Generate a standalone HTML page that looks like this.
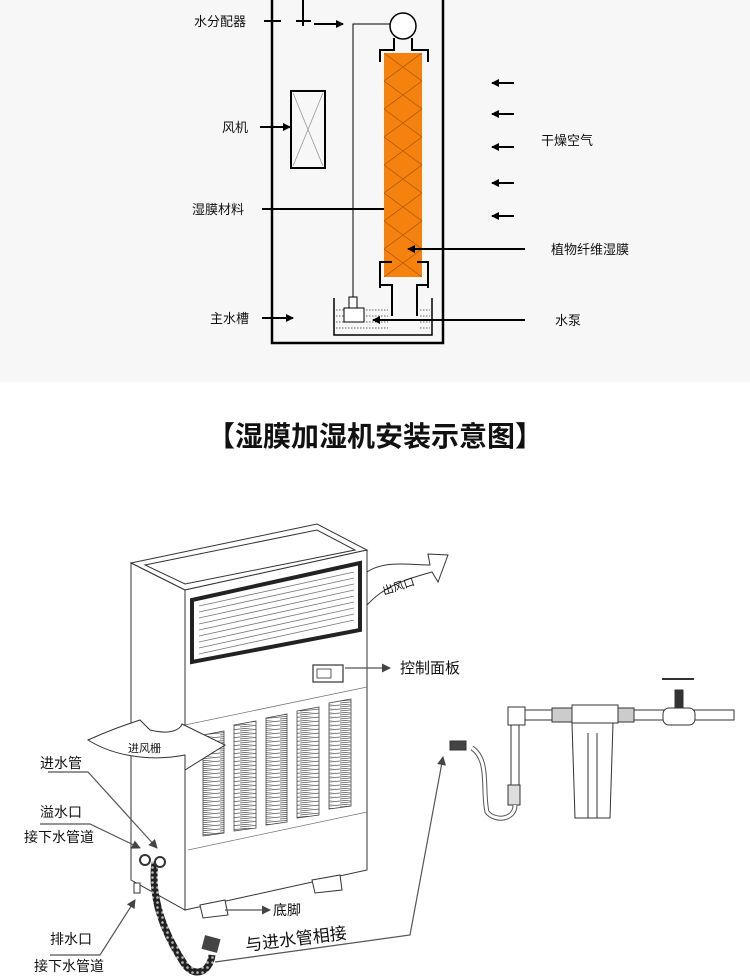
<!DOCTYPE html>
<html><head><meta charset="utf-8"><style>
html,body{margin:0;padding:0;background:#fff;}
svg{display:block;}
text{font-family:"Liberation Sans","Noto Sans CJK SC",sans-serif;fill:#111;}
</style></head><body>
<svg width="750" height="980" viewBox="0 0 750 980" xmlns="http://www.w3.org/2000/svg">
<defs>
<marker id="ah" markerWidth="8" markerHeight="8" refX="7" refY="4" orient="auto" markerUnits="userSpaceOnUse"><path d="M0,0 L8,4 L0,8 z" fill="#000"/></marker>
<marker id="ag" markerWidth="9" markerHeight="9" refX="8" refY="4.5" orient="auto" markerUnits="userSpaceOnUse"><path d="M0,0 L9,4.5 L0,9 z" fill="#444"/></marker>
<pattern id="hatch" x="384" y="53" width="38" height="28" patternUnits="userSpaceOnUse">
<path d="M0,0 L38,28 M38,0 L0,28" stroke="#b35a00" stroke-width="0.8" fill="none"/>
</pattern>
<pattern id="louv" width="20" height="4" patternUnits="userSpaceOnUse">
<path d="M0,1 L20,-1 M0,3 L20,1" stroke="#555" stroke-width="0.8"/>
</pattern>
<pattern id="braid" width="5" height="5" patternUnits="userSpaceOnUse">
<rect width="5" height="5" fill="#222"/><circle cx="2.5" cy="2.5" r="1.3" fill="#bbb"/>
</pattern>
</defs>
<rect x="0" y="0" width="750" height="382" fill="#f7f7f7"/>
<rect x="272" y="-3" width="171" height="346" fill="none" stroke="#000" stroke-width="2.5"/>
<rect x="291" y="91" width="34" height="77" fill="none" stroke="#000" stroke-width="2"/>
<path d="M293,93 L323,166 M323,93 L293,166" stroke="#999" stroke-width="0.8"/>
<circle cx="403" cy="26" r="13" fill="#fff" stroke="#000" stroke-width="1.5"/>
<path d="M390,24 L353,24 L353,297" fill="none" stroke="#000" stroke-width="1"/>
<path d="M394,38 L394,50 L380,50 L380,62 M412,38 L412,50 L428,50 L428,62" fill="none" stroke="#000" stroke-width="2"/>
<rect x="384" y="53" width="38" height="224" fill="#f5820f"/>
<rect x="384" y="53" width="38" height="224" fill="url(#hatch)"/>
<path d="M380,288 L380,262 L392,262 M428,288 L428,262 L417,262 M380,285 L392,285 L392,316 M428,285 L417,285 L417,316" fill="none" stroke="#000" stroke-width="2"/>
<path d="M334,298 L334,335 L432,335 L432,298" fill="none" stroke="#000" stroke-width="1.5"/>
<g stroke="#333" stroke-width="0.8" stroke-dasharray="1.5,1.5">
<line x1="336" y1="310" x2="388" y2="310"/><line x1="336" y1="316" x2="388" y2="316"/><line x1="336" y1="322" x2="388" y2="322"/><line x1="336" y1="328" x2="388" y2="328"/>
<line x1="420" y1="310" x2="430" y2="310"/><line x1="420" y1="316" x2="430" y2="316"/><line x1="420" y1="322" x2="430" y2="322"/><line x1="420" y1="328" x2="430" y2="328"/>
</g>
<rect x="349" y="297" width="8" height="11" fill="#fff" stroke="#000" stroke-width="1"/>
<rect x="344" y="308" width="20" height="14" fill="#fff" stroke="#000" stroke-width="1"/>
<g stroke="#000" stroke-width="2" fill="none">
<line x1="264" y1="21" x2="281" y2="21"/>
<line x1="303" y1="0" x2="303" y2="26"/><line x1="296" y1="21" x2="311" y2="21"/>
<line x1="314" y1="24" x2="343" y2="24" marker-end="url(#ah)"/>
<line x1="260" y1="127" x2="290" y2="127" marker-end="url(#ah)"/>
<line x1="262" y1="209" x2="384" y2="209"/>
<line x1="262" y1="318" x2="293" y2="318" marker-end="url(#ah)"/>
<line x1="514" y1="83" x2="492" y2="83" marker-end="url(#ah)"/>
<line x1="514" y1="114" x2="492" y2="114" marker-end="url(#ah)"/>
<line x1="514" y1="147" x2="492" y2="147" marker-end="url(#ah)"/>
<line x1="514" y1="183" x2="492" y2="183" marker-end="url(#ah)"/>
<line x1="514" y1="216" x2="492" y2="216" marker-end="url(#ah)"/>
<line x1="525" y1="249" x2="408" y2="249" marker-end="url(#ah)"/>
<line x1="525" y1="320" x2="373" y2="320" marker-end="url(#ah)"/>
</g>
<g font-size="13">
<text x="194" y="26">水分配器</text>
<text x="222" y="132">风机</text>
<text x="192" y="214">湿膜材料</text>
<text x="210" y="323">主水槽</text>
<text x="541" y="145">干燥空气</text>
<text x="551" y="254">植物纤维湿膜</text>
<text x="555" y="325">水泵</text>
</g>
<text x="375" y="446" font-size="28" font-weight="bold" text-anchor="middle">【湿膜加湿机安装示意图】</text>

<g stroke="#333" stroke-width="1" fill="#fff">
<polygon points="131,563 317,524 367,550 185,590"/>
<polygon points="145,565 317,530 355,550 185,584" fill="none"/>
<polygon points="131,563 185,590 185,910 131,880"/>
<polygon points="185,590 367,550 367,870 185,910"/>
<polygon points="192,600 360,563 360,630 192,662" fill="#fff" stroke="#222" stroke-width="4"/>
</g>
<g stroke="#777" stroke-width="0.8">
<line x1="199" y1="606" x2="354" y2="572"/><line x1="199" y1="612" x2="354" y2="578"/><line x1="199" y1="618" x2="354" y2="584"/><line x1="199" y1="624" x2="354" y2="590"/><line x1="199" y1="630" x2="354" y2="596"/><line x1="199" y1="636" x2="354" y2="602"/><line x1="199" y1="642" x2="354" y2="608"/><line x1="199" y1="648" x2="354" y2="614"/><line x1="199" y1="654" x2="354" y2="620"/>
<line x1="185" y1="725" x2="367" y2="687"/>
<line x1="188" y1="850" x2="367" y2="812"/>
</g>
<rect x="313" y="665" width="30" height="17" fill="#fff" stroke="#333" stroke-width="1.2"/>
<rect x="317" y="669" width="14" height="9" fill="none" stroke="#333" stroke-width="0.8"/>
<g stroke="#444" stroke-width="0.8" fill="url(#louv)">
<polygon points="203,735 224,731 224,833 203,836"/>
<polygon points="234,725 256,721 256,828 234,831"/>
<polygon points="266,718 287,714 287,822 266,825"/>
<polygon points="297,711 319,707 319,815 297,818"/>
<polygon points="329,703 351,699 351,806 329,809"/>
</g>
<g fill="#fff" stroke="#333" stroke-width="1">
<polygon points="200,905 225,900 228,915 203,918"/>
<polygon points="312,880 340,875 342,890 315,893"/>
<rect x="134" y="883" width="6" height="10"/>
</g>
<path d="M367,572 C385,560 410,565 430,565 L428,554 L448,555 L438,582 L432,572 C410,578 385,585 367,605 Z" fill="#fff" stroke="#333" stroke-width="1"/>
<text x="384" y="595" font-size="11" transform="rotate(-18 384 595)">出风口</text>
<path d="M88,740 C110,730 125,725 140,720 L150,730 C170,735 180,730 182,724 L225,745 L185,770 L185,755 C160,760 120,760 88,740 Z" fill="#fff" stroke="#333" stroke-width="1"/>
<text x="128" y="752" font-size="11">进风栅</text>
<path d="M155,862 C150,900 165,935 185,965 C195,978 210,972 212,955" fill="none" stroke="url(#braid)" stroke-width="7"/>
<circle cx="145" cy="860" r="5" fill="#fff" stroke="#333" stroke-width="2"/>
<circle cx="160" cy="862" r="5" fill="#fff" stroke="#333" stroke-width="2"/>
<rect x="203" y="937" width="16" height="14" fill="#444" transform="rotate(15 211 944)"/>
<g stroke="#555" stroke-width="1.2" fill="none">
<path d="M48,772 L88,772 L157,848" marker-end="url(#ag)"/>
<path d="M40,824 L90,824 L140,848" marker-end="url(#ag)"/>
<path d="M50,955 L100,955 L135,900" marker-end="url(#ag)"/>
<path d="M345,668 L390,668" marker-end="url(#ag)"/>
<path d="M225,910 L270,910" marker-end="url(#ag)"/>
<path d="M215,962 L410,935 L443,757" marker-end="url(#ag)"/>
</g>
<g font-size="14">
<text x="40" y="768">进水管</text>
<text x="40" y="817">溢水口</text>
<text x="24" y="842">接下水管道</text>
<text x="50" y="944">排水口</text>
<text x="34" y="971">接下水管道</text>
<text x="273" y="915">底脚</text>
<text x="400" y="673" font-size="15">控制面板</text>
</g>
<text x="246" y="951" font-size="17" transform="rotate(-7 246 951)">与进水管相接</text>
<g stroke="#333" stroke-width="1" fill="#fff">
<rect x="520" y="710" width="214" height="10"/>
<rect x="511" y="715" width="8" height="75"/>
<rect x="508" y="707" width="17" height="18"/>
<rect x="508" y="785" width="12" height="20" fill="#ddd"/>
<rect x="663" y="708" width="32" height="17" rx="6"/>
<rect x="675" y="690" width="8" height="18" fill="#333"/>
<path d="M662,679 L694,679" stroke-width="2"/>
<rect x="552" y="708" width="20" height="14" fill="#ccc"/>
<rect x="618" y="708" width="16" height="14" fill="#ccc"/>
<path d="M572,705 L618,705 L618,723 L572,723 Z"/>
<path d="M572,723 L613,723 L610,818 L575,818 Z"/>
<line x1="588" y1="733" x2="588" y2="818"/><line x1="597" y1="733" x2="597" y2="818"/>
<path d="M515,805 C515,820 495,822 487,812 C482,790 490,760 472,748" fill="none" stroke-width="5" stroke="#555"/>
<path d="M515,805 C515,820 495,822 487,812 C482,790 490,760 472,748" fill="none" stroke-width="3" stroke="#fff"/>
<rect x="450" y="741" width="16" height="9" fill="#444"/>
</g>
</svg>
</body></html>
